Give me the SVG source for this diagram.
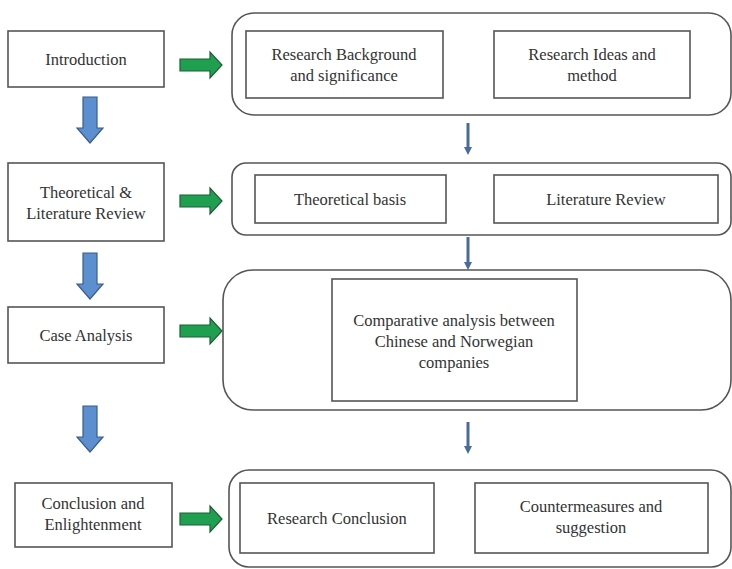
<svg xmlns="http://www.w3.org/2000/svg" width="732" height="569" viewBox="0 0 732 569">
<defs>
<style>
.box{fill:#fff;stroke:#555;stroke-width:1.6}
.cont{fill:#fff;stroke:#555;stroke-width:1.6}
.t{font-family:"Liberation Serif","Times New Roman",serif;font-size:16.5px;fill:#333;text-anchor:middle}
.g{fill:#1fa050;stroke:#1d5e33;stroke-width:1.2}
.b{fill:#5b8fd0;stroke:#3b5d88;stroke-width:1.2}
.s{stroke:#4a6a9c;stroke-width:3;fill:none}
.sh{fill:#4a6a9c}
</style>
<path id="garrow" d="M0,7 H30 V0 L42,13 L30,26 V19 H0 Z"/>
<path id="barrow" d="M6,0 H20 V31 H26 L13,46 L0,31 H6 Z"/>
</defs>
<rect width="732" height="569" fill="#fff"/>
<g id="connectors">
<use href="#garrow" x="180" y="52" class="g"/>
<use href="#garrow" x="180" y="188" class="g"/>
<use href="#garrow" x="180" y="318" class="g"/>
<use href="#garrow" x="180" y="506" class="g"/>
<use href="#barrow" x="77" y="97" class="b"/>
<use href="#barrow" x="77" y="253" class="b"/>
<use href="#barrow" x="77" y="406" class="b"/>
<g>
<line x1="468" y1="123" x2="468" y2="148" class="s"/><path d="M464,147 L472,147 L468,155 Z" class="sh"/>
<line x1="468" y1="237" x2="468" y2="263" class="s"/><path d="M464,262 L472,262 L468,270 Z" class="sh"/>
<line x1="468" y1="422" x2="468" y2="447" class="s"/><path d="M464,446 L472,446 L468,454 Z" class="sh"/>
</g>
</g>
<g id="n-intro"><rect class="box" x="8" y="31" width="156" height="56"/><text class="t" x="86" y="65">Introduction</text></g>
<g id="n-theory"><rect class="box" x="8" y="163" width="156" height="78"/><text class="t" x="86" y="198">Theoretical &amp;</text><text class="t" x="86" y="219">Literature Review</text></g>
<g id="n-case"><rect class="box" x="8" y="307" width="156" height="56"/><text class="t" x="86" y="341">Case Analysis</text></g>
<g id="n-concl"><rect class="box" x="15" y="483" width="157" height="64"/><text class="t" x="93" y="509">Conclusion and</text><text class="t" x="93" y="530">Enlightenment</text></g>
<g id="c-row1"><rect class="cont" x="232" y="13" width="499" height="102" rx="22"/></g>
<g id="n-bg"><rect class="box" x="246" y="31" width="197" height="67"/><text class="t" x="344" y="60">Research Background</text><text class="t" x="344" y="81">and significance</text></g>
<g id="n-ideas"><rect class="box" x="494" y="31" width="196" height="67"/><text class="t" x="592" y="60">Research Ideas and</text><text class="t" x="592" y="81">method</text></g>
<g id="c-row2"><rect class="cont" x="232" y="163" width="499" height="72" rx="14"/></g>
<g id="n-basis"><rect class="box" x="255" y="175" width="191" height="48"/><text class="t" x="350" y="205">Theoretical basis</text></g>
<g id="n-lit"><rect class="box" x="494" y="175" width="224" height="48"/><text class="t" x="606" y="205">Literature Review</text></g>
<g id="c-row3"><rect class="cont" x="223" y="270" width="508" height="140" rx="30"/></g>
<g id="n-comp"><rect class="box" x="332" y="279" width="245" height="122"/><text class="t" x="454" y="326">Comparative analysis between</text><text class="t" x="454" y="347">Chinese and Norwegian</text><text class="t" x="454" y="368">companies</text></g>
<g id="c-row4"><rect class="cont" x="229" y="470" width="502" height="97" rx="20"/></g>
<g id="n-rc"><rect class="box" x="240" y="483" width="194" height="70"/><text class="t" x="337" y="524">Research Conclusion</text></g>
<g id="n-cm"><rect class="box" x="475" y="483" width="233" height="70"/><text class="t" x="591" y="512">Countermeasures and</text><text class="t" x="591" y="533">suggestion</text></g>
</svg>
